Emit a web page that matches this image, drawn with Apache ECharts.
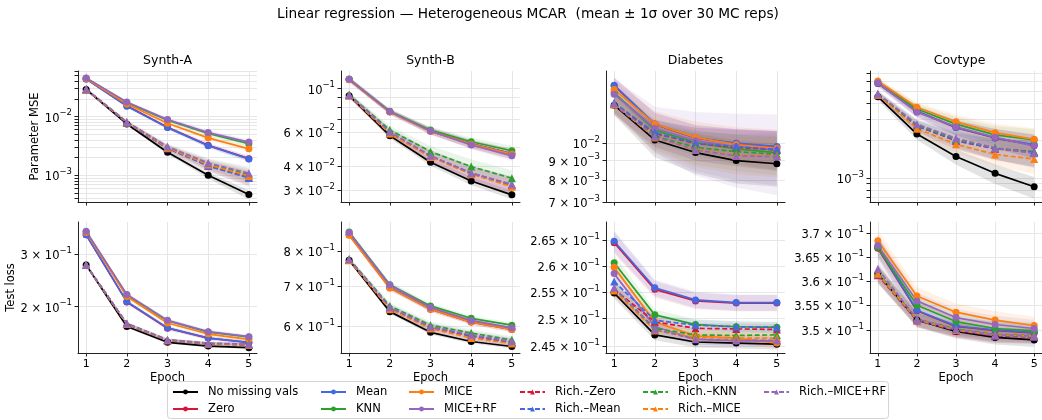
<!DOCTYPE html>
<html><head><meta charset="utf-8">
<script src="https://cdn.jsdelivr.net/npm/echarts@6/dist/echarts.min.js"></script>
<style>html,body{margin:0;padding:0;background:#fff}#c{width:1042px;height:420px}</style>
</head><body><div id="c"></div>
<script>
// ---------------- DATA ----------------
const epochs = [1, 2, 3, 4, 5];
const methodNames = ['No missing vals', 'Zero', 'Mean', 'KNN', 'MICE', 'MICE+RF',
  'Rich.–Zero', 'Rich.–Mean', 'Rich.–KNN', 'Rich.–MICE', 'Rich.–MICE+RF'];
const methodColors = ['#000000', '#dc143c', '#4169e1', '#2ca02c', '#ff7f0e', '#9467bd',
  '#dc143c', '#4169e1', '#2ca02c', '#ff7f0e', '#9467bd'];
const datasetNames = ['Synth-A', 'Synth-B', 'Diabetes', 'Covtype'];

// Parameter MSE, mean over reps (rows follow methodNames)
const synthA_mse = [
  [0.0290, 0.0075, 0.00247, 0.00100, 0.00047],
  [0.0440, 0.0153, 0.0066, 0.00325, 0.00192],
  [0.0438, 0.0151, 0.0065, 0.00320, 0.00190],
  [0.0452, 0.0172, 0.0087, 0.00515, 0.00345],
  [0.0448, 0.0164, 0.0077, 0.00435, 0.00282],
  [0.0458, 0.0177, 0.0089, 0.00535, 0.00368],
  [0.0290, 0.0079, 0.00290, 0.00146, 0.00092],
  [0.0290, 0.0079, 0.00288, 0.00144, 0.00090],
  [0.0292, 0.0080, 0.00300, 0.00157, 0.00103],
  [0.0291, 0.0080, 0.00296, 0.00152, 0.00097],
  [0.0296, 0.0081, 0.00308, 0.00162, 0.00108]
];
const synthB_mse = [
  [0.0920, 0.0573, 0.0418, 0.0335, 0.0284],
  [0.1115, 0.0760, 0.0605, 0.0520, 0.0462],
  [0.1115, 0.0760, 0.0605, 0.0520, 0.0463],
  [0.1120, 0.0765, 0.0613, 0.0533, 0.0479],
  [0.1112, 0.0758, 0.0604, 0.0518, 0.0460],
  [0.1118, 0.0762, 0.0606, 0.0513, 0.0451],
  [0.0925, 0.0590, 0.0448, 0.0366, 0.0318],
  [0.0925, 0.0592, 0.0450, 0.0368, 0.0320],
  [0.0930, 0.0613, 0.0474, 0.0397, 0.0346],
  [0.0922, 0.0587, 0.0445, 0.0363, 0.0313],
  [0.0928, 0.0600, 0.0452, 0.0367, 0.0322]
];
const diabetes_mse = [
  [0.01260, 0.01020, 0.00945, 0.00900, 0.00883],
  [0.01418, 0.01122, 0.01032, 0.00998, 0.00978],
  [0.01422, 0.01124, 0.01034, 0.01000, 0.00980],
  [0.01360, 0.01083, 0.01004, 0.00966, 0.00945],
  [0.01386, 0.01124, 0.01036, 0.00992, 0.00970],
  [0.01347, 0.01095, 0.01015, 0.00980, 0.00960],
  [0.01270, 0.01062, 0.00998, 0.00976, 0.00960],
  [0.01278, 0.01066, 0.01000, 0.00980, 0.00962],
  [0.01268, 0.01045, 0.00975, 0.00950, 0.00935],
  [0.01265, 0.01035, 0.00962, 0.00930, 0.00925],
  [0.01272, 0.01040, 0.00960, 0.00926, 0.00922]
];
const covtype_mse = [
  [0.00453, 0.00226, 0.00149, 0.00109, 0.00085],
  [0.00580, 0.00345, 0.00255, 0.00210, 0.00184],
  [0.00582, 0.00346, 0.00256, 0.00211, 0.00185],
  [0.00595, 0.00360, 0.00272, 0.00223, 0.00203],
  [0.00606, 0.00372, 0.00284, 0.00232, 0.00205],
  [0.00587, 0.00339, 0.00259, 0.00213, 0.00181],
  [0.00470, 0.00262, 0.00200, 0.00172, 0.00162],
  [0.00472, 0.00264, 0.00201, 0.00173, 0.00163],
  [0.00474, 0.00268, 0.00205, 0.00175, 0.00160],
  [0.00470, 0.00250, 0.00187, 0.00155, 0.00142],
  [0.00478, 0.00272, 0.00209, 0.00174, 0.00158]
];

// Test loss, mean over reps
const synthA_loss = [
  [0.2757, 0.1717, 0.1520, 0.1477, 0.1459],
  [0.3480, 0.2075, 0.1695, 0.1570, 0.1518],
  [0.3480, 0.2079, 0.1699, 0.1571, 0.1520],
  [0.3560, 0.2190, 0.1795, 0.1645, 0.1585],
  [0.3540, 0.2162, 0.1764, 0.1620, 0.1554],
  [0.3575, 0.2199, 0.1800, 0.1650, 0.1588],
  [0.2755, 0.1750, 0.1543, 0.1503, 0.1490],
  [0.2755, 0.1751, 0.1544, 0.1504, 0.1491],
  [0.2758, 0.1755, 0.1548, 0.1508, 0.1497],
  [0.2756, 0.1752, 0.1545, 0.1505, 0.1493],
  [0.2760, 0.1757, 0.1550, 0.1510, 0.1499]
];
const synthB_loss = [
  [0.772, 0.634, 0.5856, 0.5654, 0.5547],
  [0.851, 0.695, 0.640, 0.609, 0.592],
  [0.852, 0.696, 0.641, 0.610, 0.593],
  [0.860, 0.703, 0.648, 0.618, 0.602],
  [0.850, 0.694, 0.640, 0.609, 0.592],
  [0.859, 0.702, 0.644, 0.613, 0.596],
  [0.773, 0.642, 0.597, 0.577, 0.563],
  [0.773, 0.643, 0.598, 0.578, 0.564],
  [0.776, 0.648, 0.602, 0.584, 0.569],
  [0.772, 0.640, 0.594, 0.573, 0.561],
  [0.775, 0.645, 0.598, 0.580, 0.566]
];
const diabetes_loss = [
  [0.2548, 0.2470, 0.2457, 0.2455, 0.2453],
  [0.2645, 0.2555, 0.2533, 0.2529, 0.2529],
  [0.2648, 0.2558, 0.2535, 0.2530, 0.2530],
  [0.2606, 0.2507, 0.2489, 0.2485, 0.2484],
  [0.2597, 0.2494, 0.2468, 0.2464, 0.2455],
  [0.2585, 0.2485, 0.2462, 0.2459, 0.2459],
  [0.2555, 0.2494, 0.2482, 0.2481, 0.2480],
  [0.2570, 0.2497, 0.2488, 0.2485, 0.2484],
  [0.2557, 0.2482, 0.2470, 0.2469, 0.2470],
  [0.2553, 0.2478, 0.2466, 0.2464, 0.2464],
  [0.2558, 0.2480, 0.2462, 0.2460, 0.2460]
];
const covtype_loss = [
  [0.3615, 0.3520, 0.3497, 0.3485, 0.3480],
  [0.3668, 0.3539, 0.3507, 0.3499, 0.3494],
  [0.3671, 0.3540, 0.3508, 0.3500, 0.3495],
  [0.3670, 0.3550, 0.3517, 0.3503, 0.3498],
  [0.3684, 0.3569, 0.3536, 0.3520, 0.3509],
  [0.3674, 0.3559, 0.3525, 0.3511, 0.3503],
  [0.3612, 0.3519, 0.3499, 0.3488, 0.3486],
  [0.3614, 0.3520, 0.3500, 0.3489, 0.3487],
  [0.3617, 0.3522, 0.3502, 0.3491, 0.3489],
  [0.3615, 0.3521, 0.3500, 0.3490, 0.3488],
  [0.3625, 0.3522, 0.3501, 0.3490, 0.3488]
];

const synthA_mse_rsd = [
  [0.03, 0.05, 0.08, 0.12, 0.18],
  [0.04, 0.05, 0.07, 0.09, 0.11], [0.04, 0.05, 0.07, 0.09, 0.11], [0.04, 0.05, 0.07, 0.09, 0.11],
  [0.04, 0.05, 0.07, 0.09, 0.11], [0.04, 0.05, 0.07, 0.09, 0.11],
  [0.04, 0.07, 0.12, 0.20, 0.28], [0.04, 0.07, 0.12, 0.20, 0.28], [0.04, 0.07, 0.12, 0.20, 0.28],
  [0.04, 0.07, 0.12, 0.20, 0.28], [0.04, 0.07, 0.12, 0.20, 0.28]
];
const synthB_mse_rsd = [
  [0.02, 0.03, 0.04, 0.05, 0.05],
  [0.03, 0.03, 0.04, 0.05, 0.06], [0.03, 0.03, 0.04, 0.05, 0.06], [0.03, 0.03, 0.04, 0.05, 0.06],
  [0.03, 0.03, 0.04, 0.05, 0.06], [0.03, 0.03, 0.04, 0.05, 0.06],
  [0.03, 0.05, 0.07, 0.09, 0.10], [0.03, 0.05, 0.07, 0.09, 0.10], [0.03, 0.05, 0.07, 0.09, 0.10],
  [0.03, 0.05, 0.07, 0.09, 0.10], [0.03, 0.05, 0.07, 0.09, 0.10]
];
const diabetes_mse_rsd = [
  [0.06, 0.10, 0.12, 0.13, 0.13],
  [0.05, 0.07, 0.08, 0.09, 0.10], [0.05, 0.07, 0.08, 0.09, 0.10], [0.05, 0.07, 0.08, 0.09, 0.10],
  [0.05, 0.08, 0.10, 0.11, 0.12], [0.10, 0.14, 0.19, 0.22, 0.24],
  [0.06, 0.08, 0.10, 0.11, 0.12], [0.06, 0.08, 0.10, 0.11, 0.12], [0.06, 0.08, 0.10, 0.11, 0.12],
  [0.06, 0.08, 0.10, 0.11, 0.12], [0.06, 0.09, 0.12, 0.14, 0.16]
];
const covtype_mse_rsd = [
  [0.06, 0.10, 0.14, 0.18, 0.20],
  [0.06, 0.10, 0.14, 0.18, 0.22], [0.06, 0.10, 0.14, 0.18, 0.22], [0.06, 0.10, 0.14, 0.18, 0.22],
  [0.06, 0.10, 0.14, 0.18, 0.23], [0.06, 0.10, 0.14, 0.18, 0.22],
  [0.06, 0.10, 0.15, 0.19, 0.24], [0.06, 0.10, 0.15, 0.19, 0.24], [0.06, 0.10, 0.15, 0.19, 0.24],
  [0.06, 0.10, 0.15, 0.19, 0.24], [0.06, 0.10, 0.15, 0.19, 0.24]
];
const synthA_loss_rsd = [
  [0.008, 0.010, 0.010, 0.010, 0.010],
  [0.010, 0.015, 0.015, 0.015, 0.015], [0.010, 0.015, 0.015, 0.015, 0.015], [0.010, 0.015, 0.015, 0.015, 0.015],
  [0.010, 0.015, 0.015, 0.015, 0.015], [0.010, 0.015, 0.015, 0.015, 0.015],
  [0.008, 0.012, 0.012, 0.012, 0.012], [0.008, 0.012, 0.012, 0.012, 0.012], [0.008, 0.012, 0.012, 0.012, 0.012],
  [0.008, 0.012, 0.012, 0.012, 0.012], [0.008, 0.012, 0.012, 0.012, 0.012]
];
const synthB_loss_rsd = [
  [0.006, 0.008, 0.008, 0.008, 0.008],
  [0.008, 0.010, 0.010, 0.010, 0.010], [0.008, 0.010, 0.010, 0.010, 0.010], [0.008, 0.010, 0.010, 0.010, 0.010],
  [0.008, 0.010, 0.010, 0.010, 0.010], [0.008, 0.010, 0.010, 0.010, 0.010],
  [0.008, 0.012, 0.014, 0.014, 0.014], [0.008, 0.012, 0.014, 0.014, 0.014], [0.008, 0.012, 0.014, 0.014, 0.014],
  [0.008, 0.012, 0.014, 0.014, 0.014], [0.008, 0.012, 0.014, 0.014, 0.014]
];
const diabetes_loss_rsd = [
  [0.004, 0.004, 0.004, 0.004, 0.004],
  [0.008, 0.006, 0.006, 0.006, 0.006], [0.008, 0.006, 0.006, 0.006, 0.006], [0.006, 0.004, 0.004, 0.004, 0.004],
  [0.006, 0.004, 0.004, 0.004, 0.004], [0.006, 0.004, 0.004, 0.004, 0.004],
  [0.005, 0.004, 0.004, 0.004, 0.004], [0.005, 0.004, 0.004, 0.004, 0.004], [0.005, 0.004, 0.004, 0.004, 0.004],
  [0.005, 0.004, 0.004, 0.004, 0.004], [0.005, 0.004, 0.004, 0.004, 0.004]
];
const covtype_loss_rsd = [
  [0.005, 0.004, 0.004, 0.004, 0.004],
  [0.006, 0.005, 0.005, 0.005, 0.005], [0.006, 0.005, 0.005, 0.005, 0.005], [0.006, 0.005, 0.005, 0.005, 0.005],
  [0.006, 0.005, 0.005, 0.005, 0.005], [0.006, 0.005, 0.005, 0.005, 0.005],
  [0.005, 0.004, 0.004, 0.004, 0.004], [0.005, 0.004, 0.004, 0.004, 0.004], [0.005, 0.004, 0.004, 0.004, 0.004],
  [0.005, 0.004, 0.004, 0.004, 0.004], [0.005, 0.004, 0.004, 0.004, 0.004]
];

// y tick positions and tick labels
const synthA_mse_ticks = [4e-4, 5e-4, 6e-4, 7e-4, 8e-4, 9e-4, 1e-3, 2e-3, 3e-3, 4e-3, 5e-3, 6e-3, 7e-3, 8e-3, 9e-3, 1e-2, 2e-2, 3e-2, 4e-2, 5e-2, 6e-2];
const synthA_mse_labelValues = [1e-3, 1e-2];
const synthA_mse_labels = ['10^−3', '10^−2'];
const synthB_mse_ticks = [3e-2, 4e-2, 5e-2, 6e-2, 7e-2, 8e-2, 9e-2, 1e-1];
const synthB_mse_labelValues = [3e-2, 4e-2, 6e-2, 1e-1];
const synthB_mse_labels = ['3 × 10^−2', '4 × 10^−2', '6 × 10^−2', '10^−1'];
const diabetes_mse_ticks = [7e-3, 8e-3, 9e-3, 1e-2];
const diabetes_mse_labelValues = [7e-3, 8e-3, 9e-3, 1e-2];
const diabetes_mse_labels = ['7 × 10^−3', '8 × 10^−3', '9 × 10^−3', '10^−2'];
const covtype_mse_ticks = [7e-4, 8e-4, 9e-4, 1e-3, 2e-3, 3e-3, 4e-3, 5e-3, 6e-3, 7e-3];
const covtype_mse_labelValues = [1e-3];
const covtype_mse_labels = ['10^−3'];
const synthA_loss_ticks = [0.2, 0.3];
const synthA_loss_labelValues = [0.2, 0.3];
const synthA_loss_labels = ['2 × 10^−1', '3 × 10^−1'];
const synthB_loss_ticks = [0.6, 0.7, 0.8];
const synthB_loss_labelValues = [0.6, 0.7, 0.8];
const synthB_loss_labels = ['6 × 10^−1', '7 × 10^−1', '8 × 10^−1'];
const diabetes_loss_ticks = [0.245, 0.25, 0.255, 0.26, 0.265];
const diabetes_loss_labelValues = [0.245, 0.25, 0.255, 0.26, 0.265];
const diabetes_loss_labels = ['2.45 × 10^−1', '2.5 × 10^−1', '2.55 × 10^−1', '2.6 × 10^−1', '2.65 × 10^−1'];
const covtype_loss_ticks = [0.35, 0.355, 0.36, 0.365, 0.37];
const covtype_loss_labelValues = [0.35, 0.355, 0.36, 0.365, 0.37];
const covtype_loss_labels = ['3.5 × 10^−1', '3.55 × 10^−1', '3.6 × 10^−1', '3.65 × 10^−1', '3.7 × 10^−1'];

// ---------------- LAYOUT / STYLE ----------------
const FONT = 'DejaVu Sans';
const colLeft = [78, 341, 606, 870];
const rowTop = [71, 222];
const gridW = 179, gridH = 131;

const panels = [
  { row: 0, col: 0, mean: synthA_mse, rsd: synthA_mse_rsd, ticks: synthA_mse_ticks, lv: synthA_mse_labelValues, lt: synthA_mse_labels, range: [3.5e-4, 6.0e-2] },
  { row: 0, col: 1, mean: synthB_mse, rsd: synthB_mse_rsd, ticks: synthB_mse_ticks, lv: synthB_mse_labelValues, lt: synthB_mse_labels, range: [0.0261, 0.1233] },
  { row: 0, col: 2, mean: diabetes_mse, rsd: diabetes_mse_rsd, ticks: diabetes_mse_ticks, lv: diabetes_mse_labelValues, lt: diabetes_mse_labels, range: [0.0070, 0.0155] },
  { row: 0, col: 3, mean: covtype_mse, rsd: covtype_mse_rsd, ticks: covtype_mse_ticks, lv: covtype_mse_labelValues, lt: covtype_mse_labels, range: [6.4e-4, 7.3e-3] },
  { row: 1, col: 0, mean: synthA_loss, rsd: synthA_loss_rsd, ticks: synthA_loss_ticks, lv: synthA_loss_labelValues, lt: synthA_loss_labels, range: [0.140, 0.384] },
  { row: 1, col: 1, mean: synthB_loss, rsd: synthB_loss_rsd, ticks: synthB_loss_ticks, lv: synthB_loss_labelValues, lt: synthB_loss_labels, range: [0.541, 0.894] },
  { row: 1, col: 2, mean: diabetes_loss, rsd: diabetes_loss_rsd, ticks: diabetes_loss_ticks, lv: diabetes_loss_labelValues, lt: diabetes_loss_labels, range: [0.2437, 0.2686] },
  { row: 1, col: 3, mean: covtype_loss, rsd: covtype_loss_rsd, ticks: covtype_loss_ticks, lv: covtype_loss_labelValues, lt: covtype_loss_labels, range: [0.3454, 0.3724] }
];

function hexA(hex, a) {
  const n = parseInt(hex.slice(1), 16);
  return 'rgba(' + (n >> 16 & 255) + ',' + (n >> 8 & 255) + ',' + (n & 255) + ',' + a + ')';
}
function toRich(s) {
  const p = s.split('^');
  return p.length > 1 ? '{b|' + p[0] + '}{s|' + p[1] + '}' : '{b|' + s + '}';
}

const axisColor = '#222';
const gridColor = '#e6e6e6';
const grid = [], xAxis = [], yAxis = [], series = [];

panels.forEach((p, k) => {
  grid.push({ left: colLeft[p.col], top: rowTop[p.row], width: gridW, height: gridH });
  xAxis.push({
    gridIndex: k, type: 'value', min: 0.8, max: 5.2,
    axisLine: { show: true, onZero: false, lineStyle: { color: axisColor, width: 1 } },
    axisTick: { show: true, customValues: epochs, length: 3.5, lineStyle: { color: axisColor } },
    axisLabel: { show: p.row === 1, customValues: epochs, margin: 6, fontFamily: FONT, fontSize: 11, color: '#000' },
    splitLine: { show: true, lineStyle: { color: gridColor, width: 1 } },
    name: p.row === 1 ? 'Epoch' : '', nameLocation: 'middle', nameGap: 19,
    nameTextStyle: { fontFamily: FONT, fontSize: 11.5, color: '#000' }
  });
  const lv = p.lv, lt = p.lt;
  yAxis.push({
    gridIndex: k, type: 'log', logBase: 10, min: p.range[0], max: p.range[1],
    axisLine: { show: true, onZero: false, lineStyle: { color: axisColor, width: 1 } },
    axisTick: { show: true, customValues: p.ticks, length: 3.5, lineStyle: { color: axisColor } },
    axisLabel: {
      customValues: lv, margin: 6, color: '#000',
      formatter: function (v) {
        let val = (v < 0) ? Math.pow(10, v) : v;
        let best = 0, bd = Infinity;
        lv.forEach((t, i) => { const d = Math.abs(Math.log(t) - Math.log(val)); if (d < bd) { bd = d; best = i; } });
        return toRich(lt[best]);
      },
      rich: {
        b: { fontFamily: FONT, fontSize: 11.5, color: '#000', lineHeight: 16, verticalAlign: 'bottom' },
        s: { fontFamily: FONT, fontSize: 8.5, color: '#000', lineHeight: 10, verticalAlign: 'top' }
      }
    },
    splitLine: { show: true, lineStyle: { color: gridColor, width: 1 } },
    name: p.col === 0 ? (p.row === 0 ? 'Parameter MSE' : 'Test loss') : '',
    nameLocation: 'middle', nameGap: p.row === 0 ? 34 : 58,
    nameTextStyle: { fontFamily: FONT, fontSize: 11.5, color: '#000' }
  });

  // shaded ±1σ bands
  methodNames.forEach((name, m) => {
    const band = epochs.map((e, i) => [e, p.mean[m][i] * (1 - p.rsd[m][i]), p.mean[m][i] * (1 + p.rsd[m][i])]);
    const fill = hexA(methodColors[m], 0.11);
    series.push({
      type: 'custom', xAxisIndex: k, yAxisIndex: k, silent: true, clip: true, z: 1,
      data: band, encode: { x: 0, y: [1, 2] },
      renderItem: function (params, api) {
        if (params.dataIndex !== 0) return null;
        const top = band.map(d => api.coord([d[0], d[2]]));
        const bot = band.map(d => api.coord([d[0], d[1]])).reverse();
        return { type: 'polygon', shape: { points: top.concat(bot) }, style: { fill: fill, stroke: null } };
      }
    });
  });
  // mean lines
  methodNames.forEach((name, m) => {
    const rich = m >= 6;
    series.push({
      name: name, type: 'line', xAxisIndex: k, yAxisIndex: k, z: 3,
      data: epochs.map((e, i) => [e, p.mean[m][i]]),
      symbol: rich ? 'triangle' : 'circle', symbolSize: rich ? 8 : 7,
      lineStyle: { color: methodColors[m], width: 1.7, type: rich ? [5, 2.5] : 'solid' },
      itemStyle: { color: methodColors[m] },
      emphasis: { disabled: true }
    });
  });
});

const legendCols = [
  { left: 172, data: ['No missing vals', 'Zero'] },
  { left: 320, data: ['Mean', 'KNN'] },
  { left: 408, data: ['MICE', 'MICE+RF'] },
  { left: 519, data: ['Rich.–Zero', 'Rich.–Mean'] },
  { left: 642, data: ['Rich.–KNN', 'Rich.–MICE'] },
  { left: 763, data: ['Rich.–MICE+RF'] }
];
const legend = legendCols.map(c => ({
  left: c.left, top: 385, orient: 'vertical', itemGap: 3, itemWidth: 25, itemHeight: 6,
  padding: 0, selectedMode: false, data: c.data,
  textStyle: { fontFamily: FONT, fontSize: 11.5, color: '#000', padding: [0, 0, 0, 5], lineHeight: 14 }
}));

const titles = [{
  text: 'Linear regression — Heterogeneous MCAR  (mean ± 1σ over 30 MC reps)',
  left: 528, top: 7, textAlign: 'center', padding: 0,
  textStyle: { fontFamily: FONT, fontSize: 13.7, fontWeight: 'normal', color: '#000' }
}].concat(datasetNames.map((d, i) => ({
  text: d, left: colLeft[i] + gridW / 2, top: 54, textAlign: 'center', padding: 0,
  textStyle: { fontFamily: FONT, fontSize: 12.5, fontWeight: 'normal', color: '#000' }
})));

const chart = echarts.init(document.getElementById('c'), null, { renderer: 'canvas' });
chart.setOption({
  animation: false,
  backgroundColor: '#fff',
  title: titles,
  legend: legend,
  grid: grid, xAxis: xAxis, yAxis: yAxis, series: series,
  graphic: [{
    type: 'rect', left: 167, top: 381, z: 0,
    shape: { width: 721, height: 37, r: 3 },
    style: { fill: '#fff', stroke: '#d4d4d4', lineWidth: 1 }
  }]
});
</script></body></html>
